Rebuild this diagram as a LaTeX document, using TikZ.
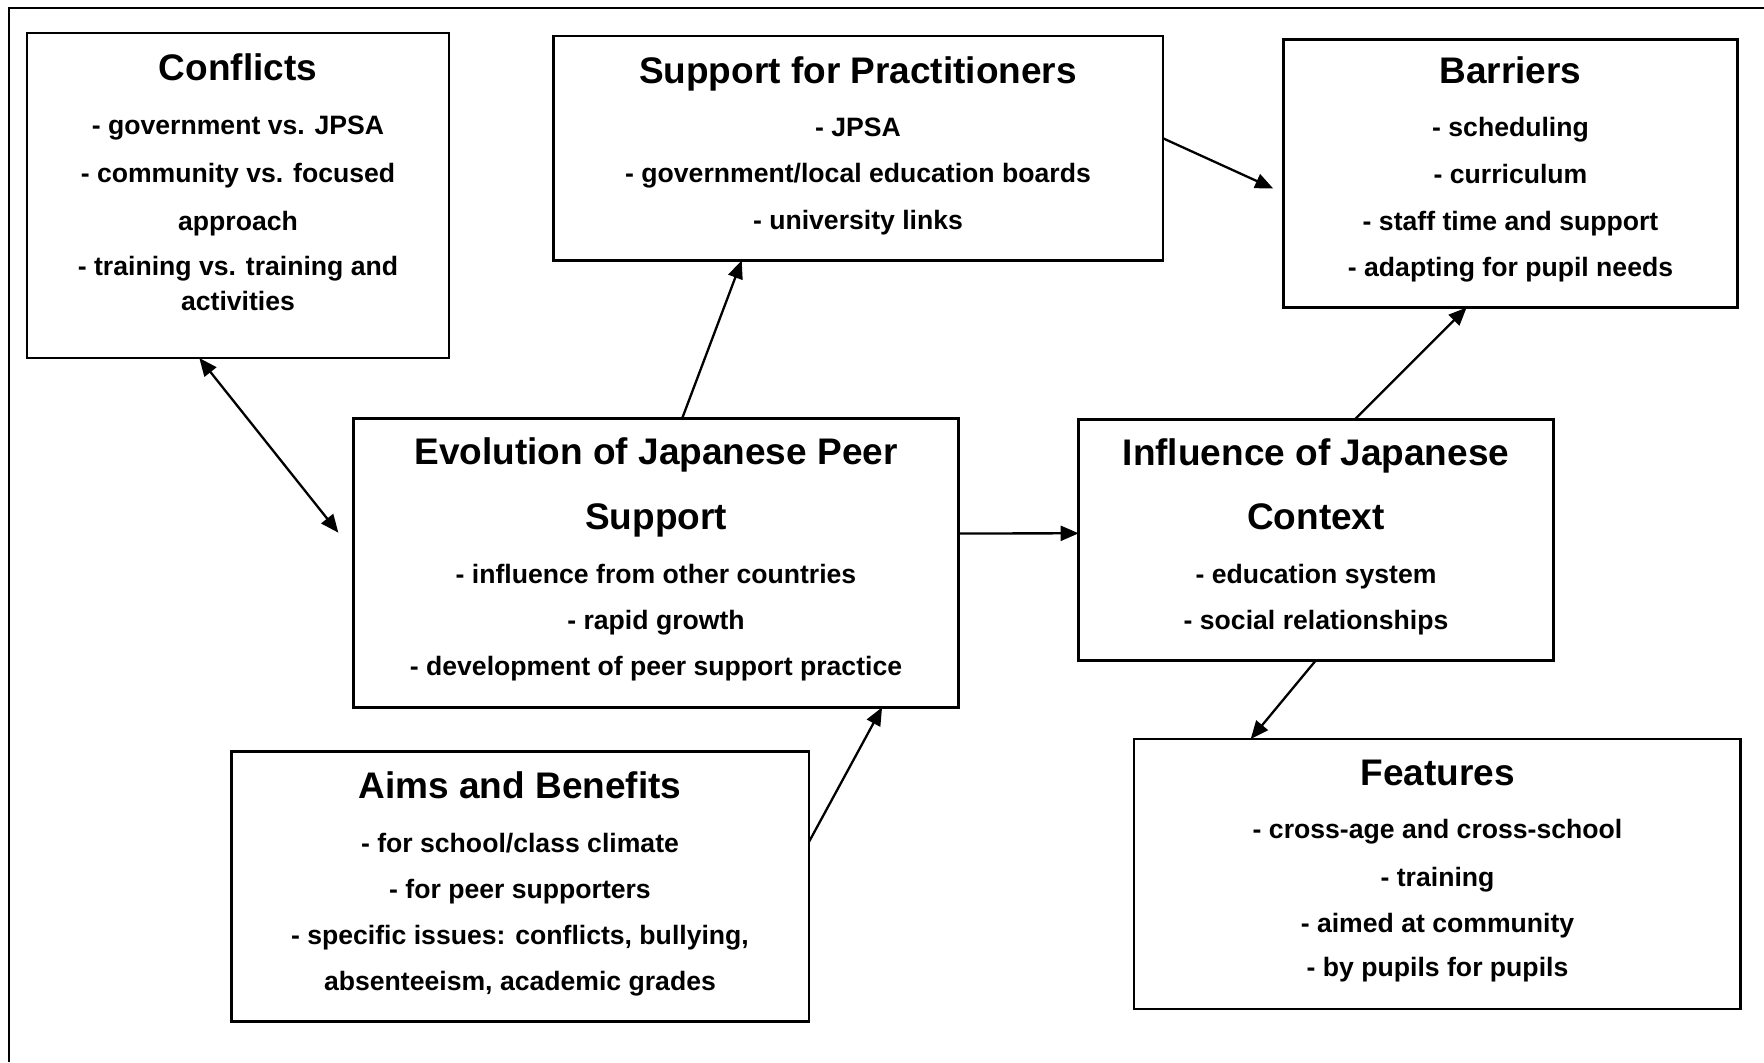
\documentclass[tikz,border=0pt]{standalone}
\usepackage{fontspec}
\setmainfont{Liberation Sans}
\usetikzlibrary{calc,arrows.meta}
\begin{document}
\begin{tikzpicture}[x={(0.5pt,0)},y={(0,-0.5pt)},
  box/.style={draw,rectangle,line width=1.35pt,inner sep=0pt,outer sep=0pt},
  ttl/.style={font=\fontsize{18.5}{22}\selectfont\bfseries,anchor=base,inner sep=0pt},
  itm/.style={font=\fontsize{13.3}{16}\selectfont\bfseries,anchor=base,inner sep=0pt},
  conn/.style={line width=1.15pt,-{Triangle[length=9pt,width=7.5pt]}},
  conn2/.style={line width=1.15pt,{Triangle[length=9pt,width=7.5pt]}-{Triangle[length=9pt,width=7.5pt]}}]
\useasboundingbox (0,0) rectangle (1764,1062);
\fill[white] (0,0) rectangle (1764,1062);
\draw[line width=1pt] (8.5,1062) -- (8.5,7.5) -- (1764,7.5);

% boxes
\node[box,minimum width=211pt,minimum height=162.5pt] (conf) at (238,195.5) {};
\node[box,minimum width=304.75pt,minimum height=112.25pt] (sup) at (858.25,148.25) {};
\node[box,minimum width=227pt,minimum height=134pt] (bar) at (1510.5,173.5) {};
\node[box,minimum width=302.5pt,minimum height=144.35pt] (evo) at (655.85,563) {};
\node[box,minimum width=237.5pt,minimum height=120.5pt] (inf) at (1316.15,540.1) {};
\node[box,minimum width=288.9pt,minimum height=135pt] (aims) at (520.1,886.6) {};
\node[box,minimum width=303.25pt,minimum height=135pt] (feat) at (1437.25,874) {};

% Conflicts
\node[ttl] (conf-t) at (238,80) {Conflicts};
\node[itm] (conf-1) at (238,134.5) {- government vs. JPSA};
\node[itm] (conf-2) at (238,182.7) {- community vs. focused};
\node[itm] (conf-3) at (238,230) {approach};
\node[itm] (conf-4) at (238,275) {- training vs. training and};
\node[itm] (conf-5) at (238,310) {activities};

% Support for Practitioners
\node[ttl] (sup-t) at (858,83.2) {Support for Practitioners};
\node[itm] (sup-1) at (858,136.6) {- JPSA};
\node[itm] (sup-2) at (858,182.6) {- government/local education boards};
\node[itm] (sup-3) at (858,229) {- university links};

% Barriers
\node[ttl] (bar-t) at (1510.5,83.3) {Barriers};
\node[itm] (bar-1) at (1510.5,136.7) {- scheduling};
\node[itm] (bar-2) at (1510.5,183.3) {- curriculum};
\node[itm] (bar-3) at (1510.5,230) {- staff time and support};
\node[itm] (bar-4) at (1510.5,276.7) {- adapting for pupil needs};

% Evolution
\node[ttl] (evo-t1) at (656,464.4) {Evolution of Japanese Peer};
\node[ttl] (evo-t2) at (656,529.8) {Support};
\node[itm] (evo-1) at (656,583.4) {- influence from other countries};
\node[itm] (evo-2) at (656,629.6) {- rapid growth};
\node[itm] (evo-3) at (656,675.6) {- development of peer support practice};

% Influence
\node[ttl] (inf-t1) at (1316,465.4) {Influence of Japanese};
\node[ttl] (inf-t2) at (1316,529.8) {Context};
\node[itm] (inf-1) at (1316,583.4) {- education system};
\node[itm] (inf-2) at (1316,629.6) {- social relationships};

% Aims
\node[ttl] (aims-t) at (520,798.4) {Aims and Benefits};
\node[itm] (aims-1) at (520,852.2) {- for school/class climate};
\node[itm] (aims-2) at (520,898.4) {- for peer supporters};
\node[itm] (aims-3) at (520,944.6) {- specific issues: conflicts, bullying,};
\node[itm] (aims-4) at (520,990.6) {absenteeism, academic grades};

% Features
\node[ttl] (feat-t) at (1437.5,785.2) {Features};
\node[itm] (feat-1) at (1437.5,838.5) {- cross-age and cross-school};
\node[itm] (feat-2) at (1437.5,886) {- training};
\node[itm] (feat-3) at (1437.5,932) {- aimed at community};
\node[itm] (feat-4) at (1437.5,976.7) {- by pupils for pupils};

% connectors
\draw[conn2] ($(conf.south west)+(172.3,0)$) -- ($(evo.north west)+(-15,114)$);
\draw[conn] ($(evo.north west)+(328.7,0)$) -- ($(sup.south west)+(188.2,0)$);
\draw[conn] ($(sup.north east)+(0,102.3)$) -- ($(bar.north west)+(-10.3,149)$);
\draw[conn] ($(evo.north east)+(0,114.8)$) -- ($(inf.north west)+(0,113.7)$);
\draw[conn] ($(inf.north west)+(276,0)$) -- ($(bar.south west)+(183.1,0)$);
\draw[conn] ($(inf.south west)+(237,0)$) -- ($(feat.north west)+(116.7,0)$);
\draw[conn] ($(aims.north east)+(0,90.2)$) -- ($(evo.south west)+(528.7,0)$);
\end{tikzpicture}
\end{document}
